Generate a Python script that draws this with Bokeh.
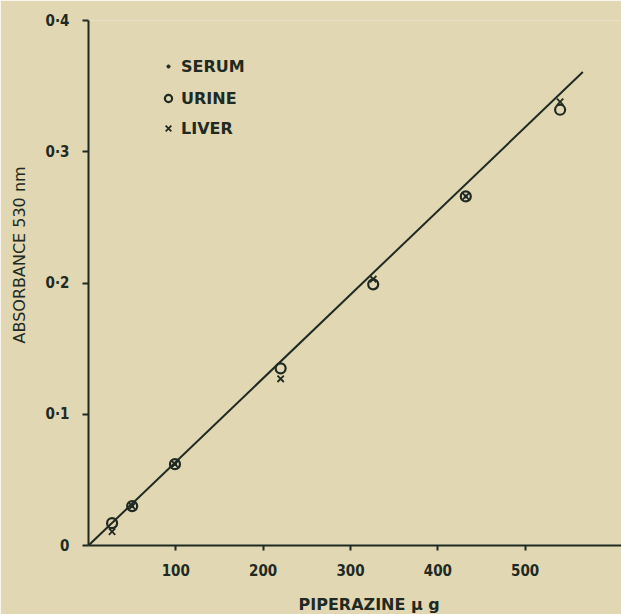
from bokeh.plotting import figure
from bokeh.models import (Range1d, FixedTicker, CustomJSTickFormatter, Title,
                          Legend, LegendItem)
from bokeh.embed import file_html
from bokeh.resources import INLINE

# ---- data ----
urine_x = [27, 50, 99, 220, 326, 432, 540]
urine_y = [0.017, 0.030, 0.062, 0.135, 0.199, 0.266, 0.332]
serum_x = [50, 99, 432]
serum_y = [0.030, 0.062, 0.266]
liver_x = [27, 50, 99, 220, 326, 432, 540]
liver_y = [0.0106, 0.030, 0.062, 0.127, 0.203, 0.266, 0.338]
fit_x = [0, 566]
fit_y = [0.0, 0.3607]
x_ticks = [100, 200, 300, 400, 500]
y_ticks = [0, 0.1, 0.2, 0.3, 0.4]

INK = "#1f2a22"
PAPER = "#e1d7b3"
FONT = "DejaVu Sans"
TICKFONT = "DejaVu Sans Condensed, DejaVu Sans"

p = figure(width=621, height=614, output_backend="svg", toolbar_location=None,
           x_range=Range1d(0, 610.3), y_range=Range1d(0, 0.4),
           min_border_left=87, min_border_right=0, min_border_top=20,
           min_border_bottom=69)
p.background_fill_color = PAPER
p.border_fill_color = PAPER
p.outline_line_color = None
p.grid.visible = False

for ax in (p.xaxis[0], p.yaxis[0]):
    ax.axis_line_color = INK
    ax.axis_line_width = 2
    ax.major_tick_line_color = INK
    ax.major_tick_line_width = 2
    ax.minor_tick_line_color = None
    ax.major_label_text_color = INK
    ax.major_label_text_font = TICKFONT
    ax.major_label_text_font_style = "bold"
    ax.major_label_text_font_size = "15px"

p.xaxis.ticker = FixedTicker(ticks=x_ticks)
p.xaxis.major_tick_out = 5
p.xaxis.major_tick_in = 0
p.xaxis.major_label_standoff = 13
# blank spacer label to push the title down
p.xaxis.axis_label = " "
p.xaxis.axis_label_text_font_size = "6px"
p.xaxis.axis_label_standoff = 5

p.yaxis.ticker = FixedTicker(ticks=y_ticks)
p.yaxis.major_tick_out = 6
p.yaxis.major_tick_in = 0
p.yaxis.major_label_standoff = 13
p.yaxis.formatter = CustomJSTickFormatter(
    code="return tick == 0 ? '0' : '0\u00b7' + Math.round(tick*10);")
p.yaxis.axis_label = " "
p.yaxis.axis_label_text_font_size = "2px"
p.yaxis.axis_label_standoff = 2

# fitted line
p.line(fit_x, fit_y, line_color=INK, line_width=2)

# points
r_serum = p.scatter(serum_x, serum_y, marker="circle", size=3,
                    fill_color=INK, line_color=INK)
r_urine = p.scatter(urine_x, urine_y, marker="circle", size=10,
                    fill_color=None, line_color=INK, line_width=2.2)
r_liver = p.scatter(liver_x, liver_y, marker="x", size=9,
                    line_color=INK, line_width=1.8)

common = dict(orientation="vertical", background_fill_alpha=0,
              border_line_color=None, padding=0, margin=0, spacing=0,
              label_height=20, label_text_font=FONT,
              label_text_font_size="16px", label_text_font_style="bold",
              label_text_color=INK)
p.add_layout(Legend(items=[LegendItem(label="SERUM", renderers=[r_serum])],
                    location=(76, 469), glyph_width=8, glyph_height=8,
                    label_standoff=9, **common))
p.add_layout(Legend(items=[LegendItem(label="URINE", renderers=[r_urine])],
                    location=(71, 437), glyph_width=18, glyph_height=18,
                    label_standoff=4, **common))
p.add_layout(Legend(items=[LegendItem(label="LIVER", renderers=[r_liver])],
                    location=(70, 407), glyph_width=20, glyph_height=20,
                    label_standoff=3, **common))

# axis titles
p.add_layout(Title(text="PIPERAZINE \u03bc g", align="left", offset=210,
                   standoff=0,
                   text_font=FONT, text_font_size="16px",
                   text_font_style="bold", text_color=INK), "below")
p.add_layout(Title(text="ABSORBANCE 530 nm", align="left", offset=202,
                   standoff=14,
                   text_font=FONT, text_font_size="16px",
                   text_font_style="normal", text_color=INK), "left")

open("out.html", "w").write(file_html(p, INLINE))
